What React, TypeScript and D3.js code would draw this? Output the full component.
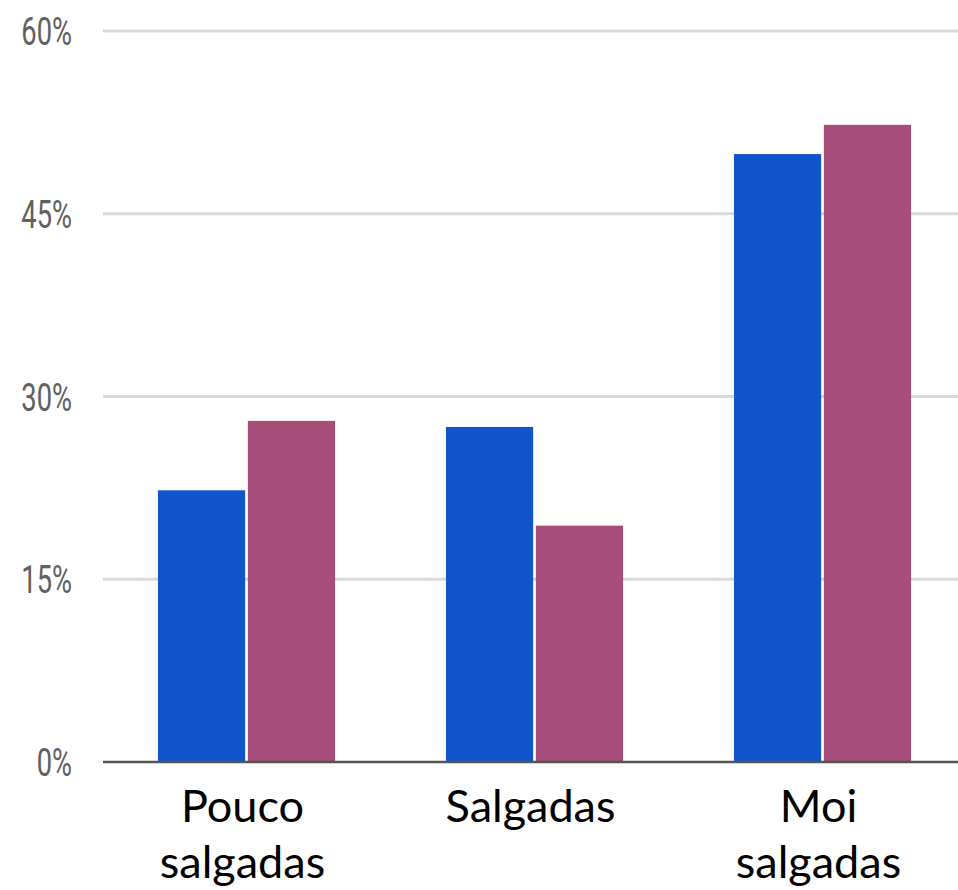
import React from "react";
import * as d3 from "d3";

const categories = ["Pouco salgadas", "Salgadas", "Moi salgadas"];
const seriesNames = ["Serie A", "Serie B"];
const seriesA = [22.3, 27.5, 49.9];
const seriesB = [28.0, 19.4, 52.3];
const yTicks = [0, 15, 30, 45, 60];
const colors = ["#1155cc", "#a64d79"];

export default function App() {
  const W = 958;
  const H = 890;
  const y = d3.scaleLinear().domain([0, 60]).range([762, 31]);
  const x = d3
    .scaleBand<string>()
    .domain(categories)
    .range([102.5, 966.5])
    .paddingInner(0.385)
    .paddingOuter(0.1925);
  const xs = d3
    .scaleBand<string>()
    .domain(seriesNames)
    .range([0, x.bandwidth()])
    .paddingInner(0.03);
  const values = [seriesA, seriesB];

  return (
    <svg
      width={W}
      height={H}
      style={{ position: "absolute", left: 0, top: 0, background: "#fff" }}
    >
      {yTicks.map((t) =>
        t === 0 ? null : (
          <line
            key={"g" + t}
            x1={103}
            x2={W}
            y1={y(t)}
            y2={y(t)}
            stroke="#d9d9d9"
            strokeWidth={3}
          />
        )
      )}
      {yTicks.map((t) => (
        <g key={"t" + t} transform={`translate(72,${y(t)}) scale(0.7,1)`}>
          <text
            x={0}
            y={0}
            dy="0.36em"
            textAnchor="end"
            fontFamily="Roboto, Arial, sans-serif"
            fontSize={39}
            fill="#606060"
          >
            {t}%
          </text>
        </g>
      ))}
      {categories.map((c, i) => (
        <g key={c} transform={`translate(${x(c)},0)`}>
          {seriesNames.map((s, j) => (
            <rect
              key={s}
              x={xs(s)}
              y={y(values[j][i])}
              width={xs.bandwidth()}
              height={y(0) - y(values[j][i])}
              fill={colors[j]}
            />
          ))}
        </g>
      ))}
      <line x1={103} x2={W} y1={y(0)} y2={y(0)} stroke="#555" strokeWidth={2.5} />
      {categories.map((c) => {
        const words = c.split(" ");
        const cx = (x(c) as number) + x.bandwidth() / 2 - 4;
        const lines = words.length > 1 ? [words[0], words.slice(1).join(" ")] : words;
        return (
          <text
            key={"l" + c}
            x={cx}
            textAnchor="middle"
            fontFamily="Lato, 'Open Sans', sans-serif"
            fontSize={45}
            fill="#000"
          >
            {lines.map((l, k) => (
              <tspan key={k} x={cx} y={822 + k * 56}>
                {l}
              </tspan>
            ))}
          </text>
        );
      })}
    </svg>
  );
}
